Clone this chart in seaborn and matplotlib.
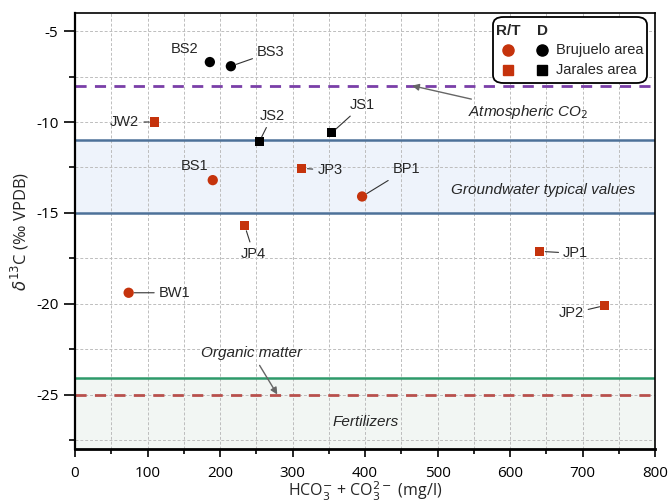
import numpy as np
import pandas as pd
import matplotlib
matplotlib.use("Agg")
import matplotlib.pyplot as plt
import seaborn as sns
from matplotlib.patches import FancyBboxPatch
from matplotlib.ticker import MultipleLocator

# ---------------- data ----------------
names = ["BS2", "BS3", "JW2", "JS2", "JS1", "BS1", "JP3", "BP1", "JP4", "JP1", "JP2", "BW1"]
hco3 = [186, 215, 110, 254, 354, 190, 313, 396, 234, 641, 731, 74]
d13c = [-6.7, -6.93, -10.0, -11.1, -10.6, -13.2, -12.55, -14.1, -15.7, -17.12, -20.1, -19.4]
group = ["D", "D", "R/T", "D", "D", "R/T", "R/T", "R/T", "R/T", "R/T", "R/T", "R/T"]
area = ["Brujuelo area", "Brujuelo area", "Jarales area", "Jarales area", "Jarales area",
        "Brujuelo area", "Jarales area", "Brujuelo area", "Jarales area", "Jarales area",
        "Jarales area", "Brujuelo area"]

atm_co2 = -8.0
organic = -25.0
gw_range = [-15.0, -11.0]
fert_top = -24.1

# label offsets (pixels) and whether a leader line is drawn
label_offsets = {"BS2": (-25, 13), "BS3": (40, 14), "JW2": (-30, 0), "JS2": (13, 26),
                 "JS1": (31, 28), "BS1": (-18, 14), "JP3": (28, -2), "BP1": (44, 27),
                 "JP4": (9, -28), "JP1": (36, -2), "JP2": (-34, -8), "BW1": (46, 0)}
no_line = {"BS2", "BS1"}

df = pd.DataFrame({"name": names, "hco3": hco3, "d13c": d13c, "group": group, "area": area})

RED = "#c5330c"
BLACK = "#000000"
palette = {"R/T": RED, "D": BLACK}

sns.set_style("white")
fig = plt.figure(figsize=(6.69, 5.04), dpi=100)
ax = fig.add_axes([75 / 669, 1 - 449 / 504, 580 / 669, 436 / 504])

ax.set_xlim(0, 800)
ax.set_ylim(-28, -4)

# bands
ax.axhspan(gw_range[0], gw_range[1], facecolor="#eef3fb", edgecolor="none", zorder=0.5)
for v in gw_range:
    ax.axhline(v, color="#4d7199", lw=1.8, zorder=2)
ax.axhspan(-28, fert_top, facecolor="#f2f6f3", edgecolor="none", zorder=0.5)
ax.axhline(fert_top, color="#2e9a6a", lw=1.8, zorder=2)
ax.axhline(atm_co2, color="#7a3fa8", lw=2, ls=(0, (4, 3)), zorder=2)
ax.axhline(organic, color="#b8504c", lw=2, ls=(0, (4, 3)), zorder=2)

# grid
ax.xaxis.set_major_locator(MultipleLocator(100))
ax.xaxis.set_minor_locator(MultipleLocator(50))
ax.yaxis.set_major_locator(MultipleLocator(5))
ax.yaxis.set_minor_locator(MultipleLocator(2.5))
ax.grid(True, which="both", color="#bdbdbd", ls=(0, (3, 2)), lw=0.7, zorder=1)

# points
circ = df[df["area"] == "Brujuelo area"]
sq = df[df["area"] == "Jarales area"]
sns.scatterplot(data=circ, x="hco3", y="d13c", hue="group", palette=palette, marker="o",
                s=55, edgecolor="none", legend=False, ax=ax, zorder=5)
sns.scatterplot(data=sq, x="hco3", y="d13c", hue="group", palette=palette, marker="s",
                s=42, edgecolor="none", legend=False, ax=ax, zorder=5)

# labels
for n, x, y in zip(names, hco3, d13c):
    dx, dy = label_offsets[n]
    arrow = None if n in no_line else dict(arrowstyle="-", color="#333333", lw=0.8,
                                            shrinkA=1, shrinkB=4)
    ax.annotate(n, xy=(x, y), xytext=(dx, dy), textcoords="offset pixels",
                ha="center", va="center", fontsize=10.5, family="Liberation Sans",
                arrowprops=arrow, zorder=6)

# band annotations
ax.annotate(r"Atmospheric CO$_2$", xy=(465, atm_co2), xytext=(625, -9.45),
            ha="center", va="center", fontsize=11, style="italic", family="Liberation Sans",
            arrowprops=dict(arrowstyle="-|>", color="#666666", lw=1, mutation_scale=10,
                            shrinkA=2, shrinkB=0), zorder=6)
ax.text(646, -13.76, "Groundwater typical values", ha="center", va="center",
        fontsize=11, style="italic", family="Liberation Sans", zorder=6)
ax.annotate("Organic matter", xy=(279, organic), xytext=(244, -22.7),
            ha="center", va="center", fontsize=11, style="italic", family="Liberation Sans",
            arrowprops=dict(arrowstyle="-|>", color="#666666", lw=1, mutation_scale=10,
                            shrinkA=2, shrinkB=0), zorder=6)
ax.text(401, -26.5, "Fertilizers", ha="center", va="center",
        fontsize=11, style="italic", family="Liberation Sans", zorder=6)

# axes styling
for s in ax.spines.values():
    s.set_color("black")
    s.set_linewidth(1.2)
ax.spines["bottom"].set_linewidth(2)
ax.spines["left"].set_linewidth(1.6)
ax.tick_params(axis="both", which="both", direction="out", width=1.2,
               bottom=True, left=True, top=False, right=False, colors="black")
ax.tick_params(axis="x", which="major", length=6, pad=6)
ax.tick_params(axis="x", which="minor", length=3.5)
ax.tick_params(axis="y", which="major", length=8, pad=4)
ax.tick_params(axis="y", which="minor", length=4)
ax.set_xticks(ax.get_xticks())
ax.set_xticklabels([str(int(v)) for v in ax.get_xticks()])
ax.set_yticks(ax.get_yticks())
ax.set_yticklabels([str(int(v)) for v in ax.get_yticks()])
ax.set_xlim(0, 800)
ax.set_ylim(-28, -4)
for lab in ax.get_xticklabels() + ax.get_yticklabels():
    lab.set_family("Open Sans")
    lab.set_fontsize(11)

ax.set_xlabel(r"HCO$_3^{-}$ + CO$_3^{2-}$ (mg/l)", fontsize=11.5, family="Open Sans")
ax.xaxis.set_label_coords(0.5, (449 - 480) / 436)
ax.set_ylabel(r"$\delta^{13}$C (‰ VPDB)", fontsize=12, family="Open Sans")
ax.yaxis.set_label_coords((31 - 75) / 580, 0.5)

# legend (drawn as a framed key in axes coordinates)
def ax_x(px):
    return (px - 75) / 580

def ax_y(py):
    return (449 - py) / 436

box = FancyBboxPatch((ax_x(493), ax_y(83)), ax_x(647) - ax_x(493), ax_y(17) - ax_y(83),
                     boxstyle="round,pad=0,rounding_size=0.018", transform=ax.transAxes,
                     facecolor="white", edgecolor="black", lw=1.3, zorder=10)
ax.add_patch(box)
hdr = dict(transform=ax.transAxes, ha="center", va="center", fontsize=11,
           weight="bold", family="Liberation Sans", zorder=11)
ax.text(ax_x(508), ax_y(31), "R/T", **hdr)
ax.text(ax_x(542), ax_y(31), "D", **hdr)
for col_px, key in [(508, "R/T"), (542, "D")]:
    ax.plot([ax_x(col_px)], [ax_y(50)], marker="o", ms=8, color=palette[key], ls="none",
            transform=ax.transAxes, zorder=11, clip_on=False)
    ax.plot([ax_x(col_px)], [ax_y(70)], marker="s", ms=7, color=palette[key], ls="none",
            transform=ax.transAxes, zorder=11, clip_on=False)
lab = dict(transform=ax.transAxes, ha="left", va="center", fontsize=10.5,
           family="Liberation Sans", zorder=11)
ax.text(ax_x(556), ax_y(50), "Brujuelo area", **lab)
ax.text(ax_x(556), ax_y(70), "Jarales area", **lab)

fig.savefig("out.png", dpi=100)
